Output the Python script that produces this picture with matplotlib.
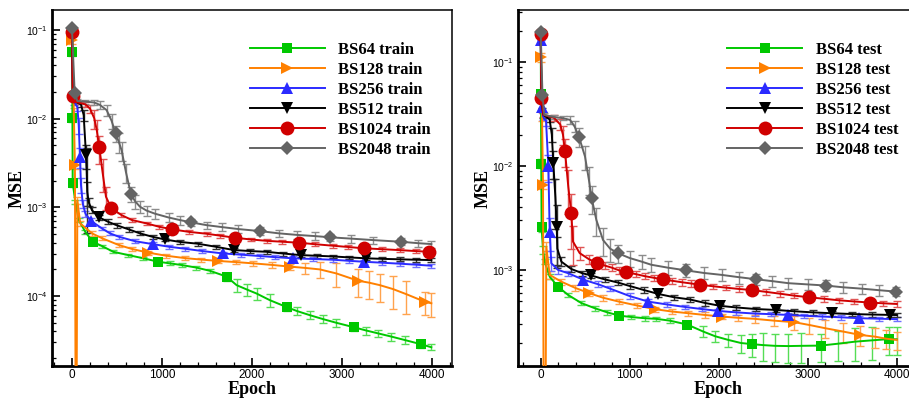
import matplotlib
matplotlib.use("Agg")
import numpy as np
import matplotlib.pyplot as plt
from matplotlib.lines import Line2D
from matplotlib.ticker import MultipleLocator, LogLocator, NullFormatter, LogFormatterSciNotation

plt.rcParams['mathtext.fontset'] = 'custom'
plt.rcParams['mathtext.rm'] = 'Liberation Sans'
plt.rcParams['mathtext.it'] = 'Liberation Sans:italic'
plt.rcParams['mathtext.bf'] = 'Liberation Sans:bold'
plt.rcParams['font.family'] = ['Liberation Sans', 'DejaVu Sans']

# ---------------- training MSE (mean, relative spread, marker epochs) ----------------
bs64_train_epoch = [0, 3, 5, 8, 37, 74, 148, 230, 333, 459, 626, 793, 959, 1090, 1219, 1380, 1533, 1719, 1830,
                    1950, 2052, 2200, 2393, 2500, 2644, 2793, 2941, 3137, 3270, 3404, 3550, 3700, 3885, 3996]
bs64_train_mse = [1.0e-1, 5.6e-2, 1.02e-2, 1.9e-3, 1.16e-3, 7.3e-4, 5.3e-4, 4.11e-4, 3.67e-4, 3.16e-4, 2.9e-4,
                  2.67e-4, 2.44e-4, 2.34e-4, 2.24e-4, 2.1e-4, 1.93e-4, 1.66e-4, 1.33e-4, 1.18e-4, 1.07e-4, 9.0e-5,
                  7.48e-5, 6.8e-5, 6.1e-5, 5.5e-5, 5.0e-5, 4.45e-5, 4.1e-5, 3.8e-5, 3.5e-5, 3.2e-5, 2.86e-5, 2.65e-5]
bs64_train_err = [0, .1, .1, .1, .05, .05, .05, .04, .04, .04, .04, .04, .04, .05, .05, .05, .06, .1, .16, .16,
                  .16, .16, .1, .1, .1, .1, .1, .08, .1, .1, .1, .1, .08, .08]
bs64_train_marks = [3, 5, 8, 230, 959, 1719, 2393, 3137, 3885]

bs128_train_epoch = [0, 5, 20, 33, 45, 60, 92, 222, 333, 519, 667, 848, 1050, 1259, 1440, 1626, 1820, 2015, 2220,
                     2422, 2590, 2756, 2941, 3181, 3300, 3422, 3570, 3719, 3922, 3996]
bs128_train_mse = [1.0e-1, 7.7e-2, 1.2e-2, 3.0e-3, 1e-7, 1.2e-3, 6.6e-4, 5.1e-4, 4.5e-4, 3.77e-4, 3.4e-4, 3.09e-4,
                   2.85e-4, 2.68e-4, 2.58e-4, 2.49e-4, 2.42e-4, 2.34e-4, 2.25e-4, 2.15e-4, 2.08e-4, 2.0e-4, 1.8e-4,
                   1.49e-4, 1.42e-4, 1.33e-4, 1.2e-4, 1.05e-4, 8.65e-5, 8.3e-5]
bs128_train_err = [0, .1, .1, .1, 0, .1, .06, .06, .05, .05, .05, .05, .05, .05, .05, .05, .06, .06, .07, .08,
                   .15, .2, .3, .35, .35, .35, .4, .4, .3, .3]
bs128_train_marks = [5, 33, 848, 1626, 2422, 3181, 3922]

bs256_train_epoch = [0, 10, 25, 60, 75, 89, 100, 120, 150, 207, 333, 422, 519, 704, 904, 1080, 1259, 1450, 1674,
                     1880, 2089, 2260, 2452, 2680, 2904, 3080, 3244, 3450, 3644, 3830, 3996]
bs256_train_mse = [1.0e-1, 1.8e-2, 1.55e-2, 1.35e-2, 8.5e-3, 3.7e-3, 1.8e-3, 1.1e-3, 8.5e-4, 7.1e-4, 5.8e-4, 5.1e-4,
                   4.68e-4, 4.15e-4, 3.85e-4, 3.6e-4, 3.42e-4, 3.22e-4, 3.03e-4, 2.93e-4, 2.83e-4, 2.75e-4, 2.67e-4,
                   2.62e-4, 2.57e-4, 2.5e-4, 2.44e-4, 2.38e-4, 2.32e-4, 2.26e-4, 2.2e-4]
bs256_train_err = [0, .1, .08, .1, .2, .25, .2, .1, .08, .06, .05, .05, .05, .05, .05, .05, .05, .05, .05, .05,
                   .05, .05, .05, .05, .05, .05, .05, .05, .05, .05, .05]
bs256_train_marks = [89, 207, 904, 1674, 2452, 3244]

bs512_train_epoch = [0, 10, 40, 100, 130, 156, 163, 170, 185, 222, 304, 400, 496, 630, 755, 900, 1035, 1200, 1396,
                     1600, 1796, 1980, 2163, 2350, 2541, 2720, 2904, 3085, 3267, 3450, 3644, 3820, 3996]
bs512_train_mse = [1.0e-1, 1.8e-2, 1.55e-2, 1.45e-2, 1.1e-2, 3.9e-3, 2.6e-3, 1.5e-3, 1.15e-3, 9.3e-4, 7.7e-4, 6.9e-4,
                   6.3e-4, 5.66e-4, 5.1e-4, 4.65e-4, 4.35e-4, 4.08e-4, 3.9e-4, 3.6e-4, 3.31e-4, 3.22e-4, 3.16e-4,
                   3.02e-4, 2.9e-4, 2.85e-4, 2.8e-4, 2.73e-4, 2.67e-4, 2.63e-4, 2.6e-4, 2.57e-4, 2.55e-4]
bs512_train_err = [0, .1, .05, .06, .15, .3, .8, .3, .1, .08, .06, .06, .06, .06, .05, .05, .05, .05, .05, .05,
                   .05, .05, .05, .05, .05, .05, .05, .05, .05, .05, .05, .05, .05]
bs512_train_marks = [156, 304, 1035, 1796, 2541, 3267]

bs1024_train_epoch = [0, 8, 40, 150, 200, 248, 275, 304, 340, 378, 437, 550, 667, 830, 970, 1115, 1300, 1496, 1650,
                      1811, 1990, 2163, 2340, 2522, 2700, 2900, 3070, 3244, 3450, 3644, 3820, 3970]
bs1024_train_mse = [9.6e-2, 1.8e-2, 1.55e-2, 1.45e-2, 1.3e-2, 1.01e-2, 7.5e-3, 4.76e-3, 2.5e-3, 1.32e-3, 9.8e-4,
                    8.2e-4, 7.2e-4, 6.6e-4, 6.05e-4, 5.66e-4, 5.3e-4, 5.05e-4, 4.8e-4, 4.55e-4, 4.35e-4, 4.2e-4,
                    4.1e-4, 4.0e-4, 3.85e-4, 3.7e-4, 3.58e-4, 3.46e-4, 3.38e-4, 3.3e-4, 3.22e-4, 3.16e-4]
bs1024_train_err = [0, .05, .05, .06, .1, .25, .3, .35, .4, .3, .1, .06, .05, .05, .05, .05, .05, .05, .05, .05,
                    .05, .05, .05, .05, .05, .05, .05, .05, .05, .05, .05, .05]
bs1024_train_marks = [0, 8, 304, 437, 1115, 1811, 2522, 3244, 3970]

bs2048_train_epoch = [0, 30, 60, 150, 250, 311, 385, 440, 485, 520, 552, 600, 655, 700, 755, 830, 922, 1074, 1200,
                      1319, 1500, 1667, 1850, 2096, 2300, 2500, 2700, 2874, 3100, 3350, 3656, 3850, 3996]
bs2048_train_mse = [1.04e-1, 1.97e-2, 1.58e-2, 1.56e-2, 1.52e-2, 1.43e-2, 1.25e-2, 9.5e-3, 6.84e-3, 5.5e-3, 4.4e-3,
                    2.5e-3, 1.42e-3, 1.18e-3, 1.02e-3, 9.2e-4, 8.5e-4, 7.7e-4, 7.2e-4, 6.8e-4, 6.3e-4, 6.0e-4,
                    5.7e-4, 5.4e-4, 5.1e-4, 4.9e-4, 4.75e-4, 4.6e-4, 4.45e-4, 4.28e-4, 4.1e-4, 3.95e-4, 3.86e-4]
bs2048_train_err = [0, .05, .05, .05, .06, .1, .15, .2, .2, .25, .25, .25, .2, .18, .16, .14, .12, .12, .11, .1,
                    .1, .1, .1, .1, .1, .1, .1, .1, .1, .09, .09, .09, .09]
bs2048_train_marks = [0, 30, 485, 655, 1319, 2096, 2874, 3656]

# ---------------- test MSE ----------------
bs64_test_epoch = [0, 3, 6, 10, 26, 45, 101, 194, 307, 456, 607, 750, 884, 1020, 1169, 1300, 1450, 1647, 1827,
                   1960, 2108, 2250, 2378, 2500, 2632, 2780, 2930, 3146, 3340, 3531, 3720, 3913, 4000]
bs64_test_mse = [1.8e-1, 4.9e-2, 1.05e-2, 2.57e-3, 1.56e-3, 1.2e-3, 8.6e-4, 6.9e-4, 5.75e-4, 4.8e-4, 4.28e-4,
                 3.9e-4, 3.63e-4, 3.52e-4, 3.43e-4, 3.38e-4, 3.25e-4, 2.98e-4, 2.55e-4, 2.3e-4, 2.12e-4, 1.98e-4,
                 1.93e-4, 1.89e-4, 1.86e-4, 1.85e-4, 1.86e-4, 1.87e-4, 1.95e-4, 2.04e-4, 2.1e-4, 2.16e-4, 2.15e-4]
bs64_test_err = [0, .1, .1, .1, .08, .06, .06, .05, .05, .05, .05, .05, .05, .05, .05, .05, .06, .08, .12, .12,
                 .14, .2, .25, .3, .3, .32, .32, .3, .32, .35, .35, .3, .3]
bs64_test_marks = [3, 6, 10, 194, 884, 1647, 2378, 3146, 3913]

bs128_test_epoch = [0, 5, 15, 26, 41, 63, 101, 232, 390, 546, 700, 880, 1080, 1284, 1470, 1659, 1850, 2034, 2220,
                    2408, 2620, 2850, 3020, 3195, 3400, 3588, 3756, 3880, 4000]
bs128_test_mse = [1.9e-1, 1.11e-1, 3.0e-2, 6.6e-3, 1e-7, 1.67e-3, 8.95e-4, 7.7e-4, 6.7e-4, 5.97e-4, 5.4e-4, 4.95e-4,
                  4.55e-4, 4.19e-4, 3.98e-4, 3.83e-4, 3.68e-4, 3.56e-4, 3.46e-4, 3.38e-4, 3.25e-4, 3.14e-4, 2.95e-4,
                  2.75e-4, 2.55e-4, 2.37e-4, 2.28e-4, 2.18e-4, 2.12e-4]
bs128_test_err = [0, .1, .1, .1, 0, .1, .08, .07, .07, .07, .07, .06, .06, .06, .06, .06, .06, .06, .07, .08,
                  .12, .15, .18, .2, .22, .22, .22, .2, .2]
bs128_test_marks = [5, 26, 546, 1284, 2034, 2850, 3588]

bs256_test_epoch = [0, 10, 25, 60, 86, 101, 119, 194, 307, 479, 640, 780, 1000, 1209, 1420, 1621, 1810, 1996, 2200,
                    2408, 2590, 2775, 2960, 3157, 3370, 3577, 3800, 4000]
bs256_test_mse = [1.63e-1, 3.7e-2, 3.0e-2, 2.7e-2, 9.9e-3, 2.33e-3, 1.16e-3, 1.0e-3, 9.3e-4, 8.05e-4, 7.3e-4, 6.6e-4,
                  5.6e-4, 4.95e-4, 4.65e-4, 4.4e-4, 4.2e-4, 4.03e-4, 3.9e-4, 3.8e-4, 3.75e-4, 3.69e-4, 3.62e-4,
                  3.56e-4, 3.5e-4, 3.43e-4, 3.39e-4, 3.36e-4]
bs256_test_err = [0, .1, .08, .1, .3, .35, .15, .08, .06, .06, .06, .06, .06, .05, .05, .05, .05, .05, .05, .05,
                  .05, .05, .05, .05, .05, .05, .05, .05]
bs256_test_marks = [0, 10, 86, 101, 479, 1209, 1996, 2775, 3577]

bs512_test_epoch = [0, 10, 30, 100, 125, 142, 165, 180, 187, 232, 344, 465, 565, 720, 869, 1000, 1160, 1321, 1500,
                    1674, 1850, 2015, 2200, 2420, 2640, 2850, 3060, 3270, 3500, 3720, 3925, 4000]
bs512_test_mse = [1.9e-1, 4.0e-2, 3.1e-2, 2.8e-2, 2.0e-2, 1.06e-2, 5.0e-3, 2.61e-3, 1.6e-3, 1.2e-3, 1.02e-3, 9.3e-4,
                  8.85e-4, 8.1e-4, 7.55e-4, 7.0e-4, 6.4e-4, 5.87e-4, 5.45e-4, 5.2e-4, 4.8e-4, 4.51e-4, 4.35e-4,
                  4.2e-4, 4.12e-4, 4.0e-4, 3.9e-4, 3.83e-4, 3.76e-4, 3.72e-4, 3.69e-4, 3.68e-4]
bs512_test_err = [0, .1, .06, .06, .15, .3, .5, .6, .3, .1, .07, .06, .06, .06, .06, .06, .06, .06, .06, .06,
                  .06, .05, .05, .05, .05, .05, .05, .05, .05, .05, .05, .05]
bs512_test_marks = [142, 180, 565, 1321, 2015, 2640, 3270, 3925]

bs1024_test_epoch = [0, 8, 30, 150, 220, 250, 273, 310, 344, 363, 438, 540, 636, 720, 800, 880, 962, 1070, 1170,
                     1270, 1370, 1480, 1590, 1690, 1794, 1940, 2080, 2230, 2371, 2530, 2690, 2850, 3015, 3180, 3350,
                     3520, 3700, 3850, 4000]
bs1024_test_mse = [1.86e-1, 4.5e-2, 3.1e-2, 2.9e-2, 2.5e-2, 2.0e-2, 1.39e-2, 6.3e-3, 3.5e-3, 1.87e-3, 1.45e-3,
                   1.27e-3, 1.16e-3, 1.1e-3, 1.05e-3, 9.9e-4, 9.5e-4, 9.1e-4, 8.7e-4, 8.4e-4, 8.1e-4, 7.85e-4,
                   7.6e-4, 7.4e-4, 7.2e-4, 6.95e-4, 6.75e-4, 6.55e-4, 6.4e-4, 6.15e-4, 5.9e-4, 5.65e-4, 5.45e-4,
                   5.28e-4, 5.1e-4, 4.97e-4, 4.85e-4, 4.77e-4, 4.7e-4]
bs1024_test_err = [0, .05, .05, .06, .12, .2, .3, .45, .55, .4, .15, .1, .09, .08, .08, .08, .08, .07, .07, .07,
                   .07, .07, .07, .07, .07, .06, .06, .06, .06, .06, .06, .06, .06, .06, .06, .06, .06, .06, .06]
bs1024_test_marks = [0, 8, 273, 344, 636, 962, 1370, 1794, 2371, 3015, 3700]

bs2048_test_epoch = [0, 20, 40, 150, 250, 330, 380, 430, 498, 540, 573, 625, 700, 780, 874, 1000, 1135, 1243, 1430,
                     1632, 1830, 2034, 2230, 2419, 2600, 2782, 3000, 3202, 3400, 3607, 3800, 3992]
bs2048_test_mse = [1.95e-1, 4.8e-2, 3.1e-2, 2.95e-2, 2.88e-2, 2.77e-2, 2.4e-2, 1.91e-2, 1.23e-2, 7.5e-3, 4.89e-3,
                   3.03e-3, 1.94e-3, 1.6e-3, 1.44e-3, 1.3e-3, 1.2e-3, 1.12e-3, 1.05e-3, 9.9e-4, 9.35e-4, 8.95e-4,
                   8.5e-4, 8.13e-4, 7.8e-4, 7.45e-4, 7.25e-4, 7.07e-4, 6.8e-4, 6.6e-4, 6.38e-4, 6.18e-4]
bs2048_test_err = [0, .08, .05, .05, .05, .08, .12, .2, .25, .3, .3, .3, .3, .25, .2, .18, .15, .15, .15, .14,
                   .13, .13, .13, .12, .12, .12, .12, .12, .12, .12, .12, .1]
bs2048_test_marks = [0, 20, 430, 573, 874, 1632, 2419, 3202, 3992]

batch_sizes = [64, 128, 256, 512, 1024, 2048]

# line colour, error-bar colour, marker, marker size
styles = {
    64:   ('#00c800', '#55dd55', 's', 7.5),
    128:  ('#ff8000', '#ffa34d', '>', 8.5),
    256:  ('#2b2bff', '#6f6fff', '^', 8.0),
    512:  ('#000000', '#333333', 'v', 8.0),
    1024: ('#d00000', '#e05555', 'o', 10.0),
    2048: ('#646464', '#8c8c8c', 'D', 7.5),
}

train_sets = {
    64: (bs64_train_epoch, bs64_train_mse, bs64_train_err, bs64_train_marks),
    128: (bs128_train_epoch, bs128_train_mse, bs128_train_err, bs128_train_marks),
    256: (bs256_train_epoch, bs256_train_mse, bs256_train_err, bs256_train_marks),
    512: (bs512_train_epoch, bs512_train_mse, bs512_train_err, bs512_train_marks),
    1024: (bs1024_train_epoch, bs1024_train_mse, bs1024_train_err, bs1024_train_marks),
    2048: (bs2048_train_epoch, bs2048_train_mse, bs2048_train_err, bs2048_train_marks),
}
test_sets = {
    64: (bs64_test_epoch, bs64_test_mse, bs64_test_err, bs64_test_marks),
    128: (bs128_test_epoch, bs128_test_mse, bs128_test_err, bs128_test_marks),
    256: (bs256_test_epoch, bs256_test_mse, bs256_test_err, bs256_test_marks),
    512: (bs512_test_epoch, bs512_test_mse, bs512_test_err, bs512_test_marks),
    1024: (bs1024_test_epoch, bs1024_test_mse, bs1024_test_err, bs1024_test_marks),
    2048: (bs2048_test_epoch, bs2048_test_mse, bs2048_test_err, bs2048_test_marks),
}

W, H = 909, 399
fig = plt.figure(figsize=(W / 100, H / 100), dpi=100)


def px_axes(x0, y0, x1, y1):
    return fig.add_axes([x0 / W, 1 - y1 / H, (x1 - x0) / W, (y1 - y0) / H])


ax_tr = px_axes(52, 10, 451.7, 366)
ax_te = px_axes(518, 10, 918.5, 366)

serif_bold = {'family': 'Liberation Serif', 'weight': 'bold'}


def draw_panel(ax, sets, xlim, ylim, tag):
    ax.set_yscale('log', nonpositive='clip')
    for bs in batch_sizes:
        ep, mse, err, marks = sets[bs]
        lc, ec, mk, ms = styles[bs]
        ep = np.asarray(ep, float)
        mse = np.asarray(mse, float)
        rel = np.asarray(err, float)
        ax.errorbar(ep, mse, yerr=mse * rel, fmt='none', ecolor=ec, elinewidth=1.0,
                    capsize=2.6, capthick=1.0, zorder=2)
        idx = [int(np.where(ep == m)[0][0]) for m in marks]
        ax.plot(ep, mse, color=lc, lw=1.4, marker=mk, ms=ms, markevery=idx,
                markeredgewidth=0, zorder=3)
    ax.set_xlim(*xlim)
    ax.set_ylim(*ylim)
    ax.xaxis.set_major_locator(MultipleLocator(1000))
    ax.xaxis.set_minor_locator(MultipleLocator(200))
    ax.yaxis.set_major_locator(LogLocator(base=10, numticks=12))
    ax.yaxis.set_minor_locator(LogLocator(base=10, subs=np.arange(2, 10), numticks=12))
    ax.yaxis.set_major_formatter(LogFormatterSciNotation())
    ax.yaxis.set_minor_formatter(NullFormatter())
    ax.tick_params(which='both', direction='in', top=False, right=False)
    ax.tick_params(which='major', length=5.5, width=1.2)
    ax.tick_params(which='minor', length=3.2, width=0.9)
    ax.tick_params(axis='x', labelsize=8.5, pad=2.5)
    ax.tick_params(axis='y', labelsize=7.5, pad=3)
    for side in ('left', 'bottom'):
        ax.spines[side].set_linewidth(2.0)
    for side in ('top', 'right'):
        ax.spines[side].set_linewidth(1.1)
    ax.set_xlabel('Epoch', fontdict=serif_bold, fontsize=13)
    ax.set_ylabel('MSE', fontdict=serif_bold, fontsize=13)
    ax.xaxis.set_label_coords(0.5, -0.043)
    ax.yaxis.set_label_coords(-0.067, 0.5)

    handles = []
    for bs in batch_sizes:
        lc, ec, mk, ms = styles[bs]
        handles.append(Line2D([], [], color=lc, lw=1.4, marker=mk, ms=ms, markeredgewidth=0))
    labels = [f'BS{bs} {tag}' for bs in batch_sizes]
    return handles, labels


legend_kw = dict(loc='upper left', frameon=False,
                 prop={'family': 'Liberation Serif', 'weight': 'bold', 'size': 12},
                 handlelength=4.5, handletextpad=0.8, labelspacing=0.24, borderaxespad=0, borderpad=0)

h, l = draw_panel(ax_tr, train_sets, (-222, 4222), (1.63e-5, 0.168), 'train')
ax_tr.legend(h, l, bbox_to_anchor=(0.495, 0.91), **legend_kw)

h, l = draw_panel(ax_te, test_sets, (-255, 4245), (1.19e-4, 0.316), 'test')
ax_te.legend(h, l, bbox_to_anchor=(0.523, 0.91), **legend_kw)

fig.savefig('out.png', dpi=100)
